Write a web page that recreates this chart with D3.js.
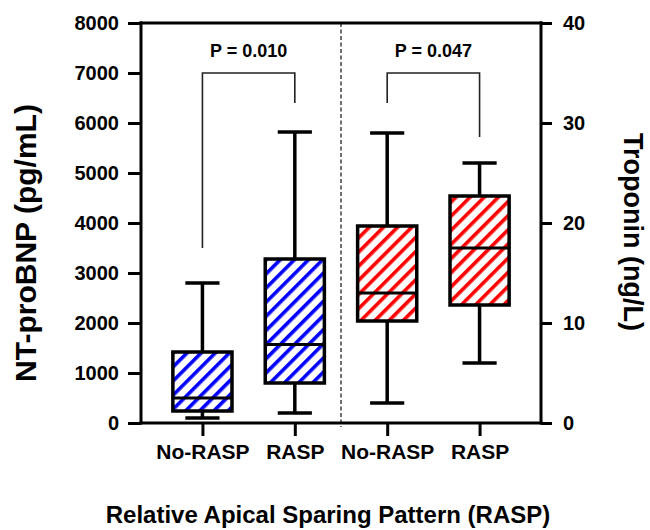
<!DOCTYPE html>
<html>
<head>
<meta charset="utf-8">
<script src="https://cdn.jsdelivr.net/npm/d3@7/dist/d3.min.js"></script>
<style>
  html, body { margin: 0; padding: 0; background: #fff; }
  svg { display: block; font-family: "Liberation Sans", Arial, sans-serif; }
</style>
</head>
<body>
<svg id="chart" width="650" height="530"></svg>
<script>
// ---------- data ----------
const categories   = ["No-RASP", "RASP", "No-RASP", "RASP"];
const catKeys      = ["a", "b", "c", "d"];
const axisOf       = ["left", "left", "right", "right"];   // NT-proBNP vs Troponin
const fillColors   = ["#0000ff", "#0000ff", "#ff0000", "#ff0000"];
const whiskerLow   = [100, 200, 2, 6];
const q1           = [240, 800, 10.2, 11.8];
const median       = [500, 1570, 13, 17.5];
const q3           = [1420, 3280, 19.7, 22.7];
const whiskerHigh  = [2800, 5820, 29, 26];

const leftTicks    = [0, 1000, 2000, 3000, 4000, 5000, 6000, 7000, 8000];
const rightTicks   = [0, 10, 20, 30, 40];

const pLabels        = ["P = 0.010", "P = 0.047"];
const bracketFrom    = ["a", "c"];
const bracketTo      = ["b", "d"];
const bracketAxis    = ["left", "right"];
const bracketTop     = [7000, 35];
const bracketLeftEnd = [3500, 32];
const bracketRightEnd= [6400, 28.6];

// ---------- layout ----------
const svg = d3.select("#chart");
const X0 = 141, X1 = 541, YT = 23, YB = 423;

const x = d3.scalePoint().domain(catKeys).range([X0, X1]).padding(0.665);
const yL = d3.scaleLinear().domain([0, 8000]).range([YB, YT]);
const yR = d3.scaleLinear().domain([0, 40]).range([YB, YT]);
const yOf = a => a === "left" ? yL : yR;

const boxW = x.step() * 0.64;
const capW = x.step() * 0.37;

// hatch patterns
const defs = svg.append("defs");
["#0000ff", "#ff0000"].forEach((c, i) => {
  const p = defs.append("pattern")
    .attr("id", "hatch" + i)
    .attr("patternUnits", "userSpaceOnUse")
    .attr("width", 10).attr("height", 10)
    .attr("patternTransform", "rotate(45)");
  p.append("rect").attr("width", 10).attr("height", 10).attr("fill", "#fff");
  p.append("rect").attr("x", 0).attr("y", 0).attr("width", 3.6).attr("height", 10).attr("fill", c);
});

// dashed divider
svg.append("line")
  .attr("x1", (x("b") + x("c")) / 2).attr("x2", (x("b") + x("c")) / 2)
  .attr("y1", YT).attr("y2", YB + 4)
  .attr("stroke", "#333").attr("stroke-width", 1.4)
  .attr("stroke-dasharray", "4,2.5");

// axes
const fontTick = "20px";
const gL = svg.append("g").attr("transform", `translate(${X0},0)`)
  .call(d3.axisLeft(yL).tickValues(leftTicks).tickSize(13).tickPadding(9).tickFormat(d3.format("d")));
const gR = svg.append("g").attr("transform", `translate(${X1},0)`)
  .call(d3.axisRight(yR).tickValues(rightTicks).tickSize(11).tickPadding(11).tickFormat(d3.format("d")));
const gB = svg.append("g").attr("transform", `translate(0,${YB})`)
  .call(d3.axisBottom(x).tickSize(13).tickPadding(8).tickFormat((d, i) => categories[i]));

[gL, gR, gB].forEach(g => {
  g.select(".domain").remove();
  g.selectAll(".tick line").attr("stroke", "#000").attr("stroke-width", 3);
  g.selectAll(".tick text").attr("fill", "#000").attr("font-weight", "bold")
    .attr("font-size", fontTick);
});
gB.selectAll(".tick text").attr("font-size", "21px");

// frame lines (left, right, top, bottom)
const frame = svg.append("g").attr("stroke", "#000").attr("stroke-width", 3).attr("stroke-linecap", "square");
frame.append("line").attr("x1", X0).attr("x2", X0).attr("y1", YT).attr("y2", YB);
frame.append("line").attr("x1", X1).attr("x2", X1).attr("y1", YT).attr("y2", YB);
frame.append("line").attr("x1", X0).attr("x2", X1).attr("y1", YT).attr("y2", YT);
frame.append("line").attr("x1", X0).attr("x2", X1).attr("y1", YB).attr("y2", YB);

// boxes
const boxes = catKeys.map((k, i) => ({
  k, i, y: yOf(axisOf[i]), lo: whiskerLow[i], q1: q1[i], med: median[i], q3: q3[i], hi: whiskerHigh[i],
  fill: fillColors[i] === "#0000ff" ? "url(#hatch0)" : "url(#hatch1)"
}));

const bg = svg.append("g").selectAll("g").data(boxes).join("g");
bg.append("line")
  .attr("x1", d => x(d.k)).attr("x2", d => x(d.k))
  .attr("y1", d => d.y(d.lo)).attr("y2", d => d.y(d.hi))
  .attr("stroke", "#000").attr("stroke-width", 3.5);
bg.append("line")
  .attr("x1", d => x(d.k) - capW / 2).attr("x2", d => x(d.k) + capW / 2)
  .attr("y1", d => d.y(d.hi)).attr("y2", d => d.y(d.hi))
  .attr("stroke", "#000").attr("stroke-width", 3.5);
bg.append("line")
  .attr("x1", d => x(d.k) - capW / 2).attr("x2", d => x(d.k) + capW / 2)
  .attr("y1", d => d.y(d.lo)).attr("y2", d => d.y(d.lo))
  .attr("stroke", "#000").attr("stroke-width", 3.5);
bg.append("rect")
  .attr("x", d => x(d.k) - boxW / 2).attr("width", boxW)
  .attr("y", d => d.y(d.q3)).attr("height", d => d.y(d.q1) - d.y(d.q3))
  .attr("fill", d => d.fill).attr("stroke", "#000").attr("stroke-width", 3.5);
bg.append("line")
  .attr("x1", d => x(d.k) - boxW / 2).attr("x2", d => x(d.k) + boxW / 2)
  .attr("y1", d => d.y(d.med)).attr("y2", d => d.y(d.med))
  .attr("stroke", "#000").attr("stroke-width", 3.2);

// brackets + p values
pLabels.forEach((lab, i) => {
  const ys = yOf(bracketAxis[i]);
  const xa = x(bracketFrom[i]), xb = x(bracketTo[i]);
  const yt = ys(bracketTop[i]);
  svg.append("path")
    .attr("d", `M${xa},${ys(bracketLeftEnd[i])}V${yt}H${xb}V${ys(bracketRightEnd[i])}`)
    .attr("fill", "none").attr("stroke", "#222").attr("stroke-width", 1.6);
  svg.append("text")
    .attr("x", (xa + xb) / 2).attr("y", yt - 16)
    .attr("text-anchor", "middle").attr("font-weight", "bold").attr("font-size", "18px")
    .text(lab);
});

// axis titles
svg.append("text")
  .attr("transform", `translate(36,${(YT + YB) / 2 + 20}) rotate(-90)`)
  .attr("text-anchor", "middle").attr("font-weight", "bold").attr("font-size", "30px")
  .text("NT-proBNP (pg/mL)");
svg.append("text")
  .attr("transform", `translate(624,${(YT + YB) / 2 + 9}) rotate(90)`)
  .attr("text-anchor", "middle").attr("font-weight", "bold").attr("font-size", "27px")
  .text("Troponin (ng/L)");
svg.append("text")
  .attr("x", 328).attr("y", 523)
  .attr("text-anchor", "middle").attr("font-weight", "bold").attr("font-size", "24px")
  .text("Relative Apical Sparing Pattern (RASP)");
</script>
</body>
</html>
